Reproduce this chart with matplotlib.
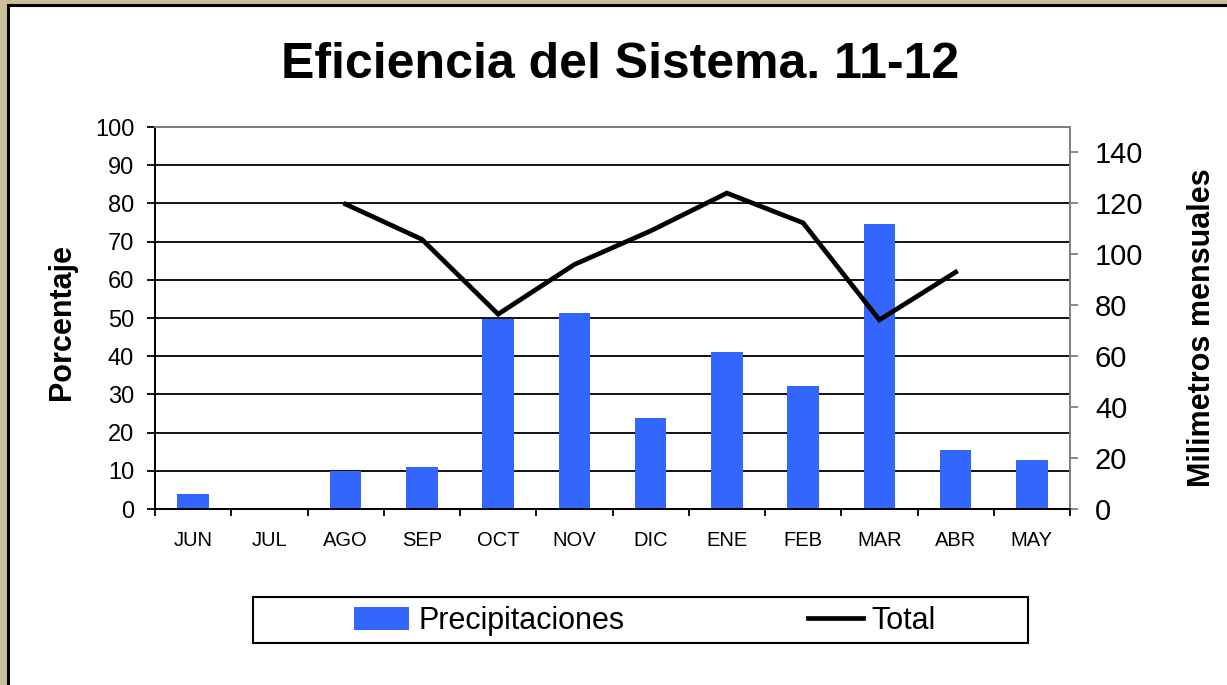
import numpy as np
import matplotlib
matplotlib.use("Agg")
import matplotlib.pyplot as plt
from matplotlib.patches import Rectangle

plt.rcParams['font.family'] = ['Liberation Sans', 'DejaVu Sans']

# datos
meses = ['JUN', 'JUL', 'AGO', 'SEP', 'OCT', 'NOV', 'DIC', 'ENE', 'FEB', 'MAR', 'ABR', 'MAY']
precipitaciones = [5.9, 0, 15.0, 16.3, 74.7, 76.8, 35.8, 61.8, 48.4, 112.0, 23.3, 19.4]  # mm
total = [np.nan, np.nan, 79.8, 70.6, 51.0, 64.0, 72.8, 82.7, 74.9, 49.5, 62.0, np.nan]  # %
ticks_pct = [0, 10, 20, 30, 40, 50, 60, 70, 80, 90, 100]
ticks_mm = [0, 20, 40, 60, 80, 100, 120, 140]

W, H = 1227, 685
fig = plt.figure(figsize=(W / 100, H / 100), dpi=100, facecolor='#c8bf98')

# panel blanco con borde negro
fig.patches.append(Rectangle((8 / W, -0.1), 1.2, 1 - 5 / H + 0.1, transform=fig.transFigure,
                             facecolor='white', edgecolor='black', linewidth=2.2, zorder=-2))

ax = fig.add_axes([155 / W, 1 - 509 / H, 915 / W, 382 / H])
ax2 = ax.twinx()
x = np.arange(len(meses))

# barras en el eje derecho (mm)
barras = ax2.bar(x, precipitaciones, width=0.41, color='#3366ff', label='Precipitaciones', zorder=2)
# linea en el eje izquierdo (%), dibujada encima de las barras
linea, = ax2.plot(x, total, transform=ax.transData, color='black', linewidth=3.4,
                  solid_joinstyle='miter', label='Total', zorder=3)

ax.set_xlim(-0.5, 11.5)
ax.set_ylim(0, 100)
ax2.set_ylim(0, 150)

ax.set_yticks(ticks_pct)
ax.set_yticklabels([str(t) for t in ticks_pct], fontsize=17)
ax2.set_yticks(ticks_mm)
ax2.set_yticklabels([str(t) for t in ticks_mm], fontsize=21)

ax.set_xticks(x)
ax.set_xticklabels(meses, fontsize=14.5)
ax.set_xticks(np.arange(-0.5, 12, 1), minor=True)
ax.tick_params(axis='x', which='major', length=0, pad=16)
ax.tick_params(axis='x', which='minor', length=5, width=1.3, direction='out', color='black')
ax.tick_params(axis='y', length=6, width=1.3, color='black', pad=9)
ax2.tick_params(axis='y', length=6, width=1.3, color='#808080', pad=12)

ax.yaxis.grid(True, color='black', linewidth=1.3)
ax.set_axisbelow(True)

for a in (ax, ax2):
    a.spines['left'].set_color('black')
    a.spines['bottom'].set_color('black')
    a.spines['top'].set_color('#808080')
    a.spines['right'].set_color('#808080')
    for s in a.spines.values():
        s.set_linewidth(1.3)

ax.set_ylabel('Porcentaje', fontsize=22, fontweight='bold')
ax.yaxis.set_label_coords(-0.085, 0.49)
ax2.set_ylabel('Milimetros mensuales', fontsize=22, fontweight='bold')
ax2.yaxis.set_label_coords(1.128, 0.474)

fig.text(620 / W, 1 - 65 / H, 'Eficiencia del Sistema. 11-12', fontsize=36, fontweight='bold',
         ha='center', va='center')

# leyenda con caja propia
fig.patches.append(Rectangle((253 / W, 1 - 643 / H), 775 / W, 46 / H, transform=fig.transFigure,
                             facecolor='white', edgecolor='black', linewidth=1.5, zorder=-1))
leg = fig.legend([barras, linea], ['Precipitaciones', 'Total'], loc='center',
                 bbox_to_anchor=(645 / W, 1 - 621 / H), ncol=2,
                 frameon=False, fontsize=22, handlelength=1.8, handletextpad=0.3,
                 columnspacing=6.0, handleheight=0.75)

fig.savefig('out.png', dpi=100, facecolor=fig.get_facecolor())
